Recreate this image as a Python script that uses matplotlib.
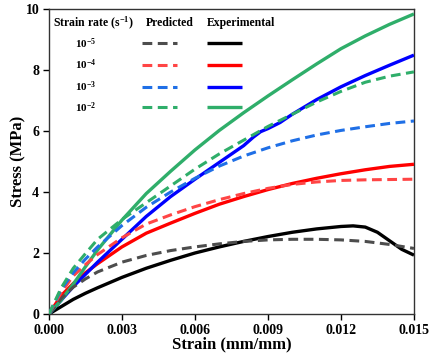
import matplotlib
matplotlib.use("Agg")
import matplotlib.pyplot as plt
import numpy as np

plt.rcParams["font.family"] = ["Liberation Serif", "DejaVu Serif"]
plt.rcParams["font.weight"] = "bold"
plt.rcParams["mathtext.fontset"] = "custom"
plt.rcParams["mathtext.rm"] = "Liberation Serif:bold"
plt.rcParams["mathtext.it"] = "Liberation Serif:bold"
plt.rcParams["mathtext.bf"] = "Liberation Serif:bold"

# Strain grid shared by most series
strain = [0, 0.0005, 0.001, 0.0015, 0.002, 0.003, 0.004, 0.005, 0.006, 0.007,
          0.008, 0.009, 0.010, 0.011, 0.012, 0.013, 0.014, 0.015]

# Experimental stress (MPa)
exp_1e5_strain = [0, 0.0005, 0.001, 0.0015, 0.002, 0.003, 0.004, 0.005, 0.006,
                  0.007, 0.008, 0.009, 0.010, 0.011, 0.012, 0.0125, 0.013,
                  0.0135, 0.014, 0.0145, 0.015]
exp_1e5 = [0, 0.24, 0.48, 0.68, 0.86, 1.20, 1.50, 1.76, 2.00, 2.20, 2.38, 2.54,
           2.68, 2.79, 2.87, 2.89, 2.85, 2.68, 2.40, 2.12, 1.93]
exp_1e4 = [0, 0.60, 1.00, 1.35, 1.65, 2.20, 2.65, 2.98, 3.30, 3.60, 3.85, 4.08,
           4.28, 4.45, 4.60, 4.73, 4.84, 4.91]
exp_1e3_strain = [0, 0.0005, 0.001, 0.0015, 0.002, 0.003, 0.004, 0.005, 0.006,
                  0.007, 0.008, 0.0084, 0.0087, 0.009, 0.0095, 0.010, 0.011,
                  0.012, 0.013, 0.014, 0.015]
exp_1e3 = [0, 0.45, 0.90, 1.30, 1.70, 2.45, 3.20, 3.85, 4.42, 4.97, 5.52, 5.80,
           5.98, 6.08, 6.28, 6.55, 7.03, 7.45, 7.82, 8.16, 8.49]
exp_1e2 = [0, 0.45, 0.98, 1.55, 2.10, 3.08, 3.95, 4.68, 5.38, 6.02, 6.60, 7.15,
           7.68, 8.20, 8.70, 9.12, 9.50, 9.84]

# Predicted stress (MPa)
pred_1e5 = [0, 0.50, 0.88, 1.15, 1.38, 1.70, 1.92, 2.08, 2.20, 2.30, 2.38, 2.43,
            2.45, 2.45, 2.43, 2.38, 2.28, 2.15]
pred_1e4 = [0, 0.70, 1.25, 1.62, 1.95, 2.50, 2.95, 3.25, 3.52, 3.75, 3.95, 4.12,
            4.25, 4.33, 4.38, 4.40, 4.41, 4.42]
pred_1e3 = [0, 0.80, 1.35, 1.80, 2.20, 2.90, 3.50, 4.00, 4.45, 4.85, 5.18, 5.45,
            5.68, 5.87, 6.02, 6.14, 6.25, 6.33]
pred_1e2 = [0, 0.85, 1.50, 1.98, 2.45, 3.10, 3.65, 4.20, 4.75, 5.25, 5.70, 6.15,
            6.55, 6.95, 7.30, 7.60, 7.80, 7.94]

rate_labels = [r"10$^{-5}$", r"10$^{-4}$", r"10$^{-3}$", r"10$^{-2}$"]
pred_colors = ["#4d4d4d", "#ff4545", "#1f6fe6", "#2fae6a"]
exp_colors = ["#000000", "#ff0000", "#0000ff", "#2fae6a"]

x_ticks = [0.000, 0.003, 0.006, 0.009, 0.012, 0.015]
y_ticks = [0, 2, 4, 6, 8, 10]

fig = plt.figure(figsize=(4.33, 3.63), dpi=100)
ax = fig.add_axes([0.113, 0.135, 0.843, 0.840])

dash = (0, (3.2, 1.8))
lw_pred = 2.2
lw_exp = 2.4

pred_series = [(strain, pred_1e5), (strain, pred_1e4), (strain, pred_1e3), (strain, pred_1e2)]
exp_series = [(exp_1e5_strain, exp_1e5), (strain, exp_1e4), (exp_1e3_strain, exp_1e3), (strain, exp_1e2)]

for (xs, ys), c in zip(exp_series, exp_colors):
    ax.plot(xs, ys, color=c, lw=lw_exp, solid_capstyle="butt",
            solid_joinstyle="round", zorder=3)
for (xs, ys), c in zip(pred_series, pred_colors):
    ax.plot(xs, ys, color=c, lw=lw_pred, linestyle=dash, dash_capstyle="butt", zorder=4)

ax.set_xlim(0, 0.015)
ax.set_ylim(0, 10)
ax.set_xticks(x_ticks)
ax.set_xticklabels([f"{v:.3f}" for v in x_ticks])
ax.set_yticks(y_ticks)
ax.tick_params(direction="out", length=4, width=1, labelsize=10, pad=3)
for s in ax.spines.values():
    s.set_linewidth(1.0)
    s.set_color("#333333")

ax.set_xlabel("Strain (mm/mm)", fontsize=12, fontweight="bold", labelpad=0)
ax.set_ylabel("Stress (MPa)", fontsize=12, fontweight="bold", labelpad=-1)

# Table-style legend: header row, then one row per strain rate
fs = 8.5
ax.text(0.012, 0.953, r"Strain rate (s$^{-1}$)", transform=ax.transAxes,
        fontsize=fs, fontweight="bold", va="center", ha="left")
ax.text(0.332, 0.953, "Predicted", transform=ax.transAxes,
        fontsize=fs, fontweight="bold", va="center", ha="center")
ax.text(0.526, 0.953, "Experimental", transform=ax.transAxes,
        fontsize=fs, fontweight="bold", va="center", ha="center")
row_y = [0.888, 0.816, 0.745, 0.678]
for lab, yr, pc, ec in zip(rate_labels, row_y, pred_colors, exp_colors):
    ax.text(0.101, yr, lab, transform=ax.transAxes, fontsize=fs - 0.5,
            fontweight="bold", va="center", ha="center")
    ax.plot([0.254, 0.352], [yr, yr], transform=ax.transAxes, color=pc,
            lw=lw_pred, linestyle=dash, dash_capstyle="butt", zorder=5)
    ax.plot([0.432, 0.528], [yr, yr], transform=ax.transAxes, color=ec,
            lw=lw_exp, solid_capstyle="butt", zorder=5)

fig.savefig("out.png", dpi=100)
